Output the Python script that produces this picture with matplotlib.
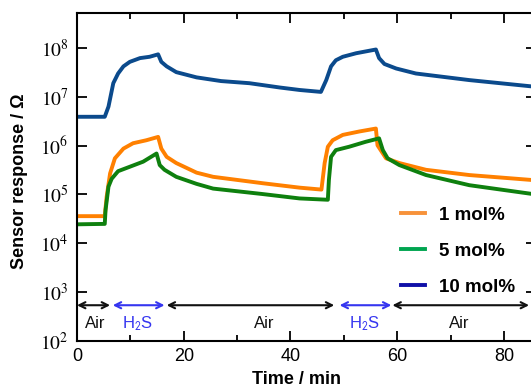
import numpy as np
import matplotlib
matplotlib.use("Agg")
import matplotlib.pyplot as plt
from matplotlib.lines import Line2D
from matplotlib.ticker import FixedLocator, MultipleLocator, FuncFormatter

plt.rcParams['font.family'] = ['Liberation Sans', 'DejaVu Sans']
plt.rcParams['mathtext.fontset'] = 'stix'

# sensor response (time in min, resistance in ohm)
t_10 = [0, 5.2, 5.9, 6.8, 7.7, 8.7, 9.9, 11.8, 13.6, 15.2, 15.8, 16.8, 18.6, 22.4, 27, 32.3,
        38, 41.7, 45.7, 46.7, 47.6, 48.5, 49.8, 52.3, 56.0, 56.6, 57.6, 59.8, 63.5, 73.5, 86]
r_10 = [3.9e6, 3.9e6, 6.3e6, 1.9e7, 3.0e7, 4.2e7, 5.2e7, 6.2e7, 6.6e7, 7.4e7, 5.2e7, 4.2e7,
        3.2e7, 2.5e7, 2.1e7, 1.9e7, 1.55e7, 1.38e7, 1.26e7, 2.2e7, 4.2e7, 5.6e7, 6.6e7, 7.8e7,
        9.3e7, 6.2e7, 4.7e7, 3.8e7, 3.0e7, 2.2e7, 1.6e7]

t_1 = [0, 5.2, 5.55, 6.2, 7.1, 8.7, 10.5, 13.0, 15.2, 15.8, 16.8, 18.6, 22.4, 25.5, 34.8, 41.7,
       45.8, 46.4, 47.0, 47.9, 49.8, 52.9, 56.0, 56.3, 57.9, 60.4, 65.4, 73.5, 86]
r_1 = [3.6e4, 3.6e4, 8.9e4, 2.7e5, 5.5e5, 8.7e5, 1.12e6, 1.29e6, 1.51e6, 8.7e5, 5.9e5, 4.4e5,
       2.8e5, 2.3e5, 1.7e5, 1.38e5, 1.26e5, 4.4e5, 9.5e5, 1.29e6, 1.66e6, 1.95e6, 2.24e6,
       1.02e6, 5.5e5, 4.4e5, 3.2e5, 2.5e5, 1.95e5]

t_5 = [0, 5.2, 5.35, 5.9, 6.5, 7.7, 9.9, 12.4, 14.9, 15.5, 16.4, 18.6, 22.4, 25.5, 34.8, 41.7,
       47.0, 47.2, 47.6, 48.5, 51.0, 54.1, 56.6, 57.3, 58.2, 60.4, 65.4, 73.5, 86]
r_5 = [2.45e4, 2.5e4, 4.8e4, 1.45e5, 2.1e5, 3.0e5, 3.7e5, 4.7e5, 6.9e5, 4.0e5, 3.2e5, 2.3e5,
       1.65e5, 1.32e5, 1.02e5, 8.3e4, 7.8e4, 2.0e5, 5.9e5, 8.1e5, 9.5e5, 1.2e6, 1.41e6, 8.1e5,
       5.5e5, 4.0e5, 2.5e5, 1.55e5, 1.0e5]

# gas exposure periods (start, end, label)
periods = [(0, 6.2, 'Air'), (6.7, 16.4, 'H$_{\\mathsf{2}}$S'), (16.8, 48.2, 'Air'),
           (49.2, 58.9, 'H$_{\\mathsf{2}}$S'), (59.1, 84.7, 'Air')]
label_x = [3.4, 11.4, 35, 53.8, 71.6]

fig = plt.figure(figsize=(5.31, 3.91), dpi=100)
ax = fig.add_axes([77/531, 50/391, (536-77)/531, 328/391])

ax.plot(t_1, r_1, color='#ff8000', lw=2.8)
ax.plot(t_5, r_5, color='#0e800e', lw=2.8)
ax.plot(t_10, r_10, color='#0b4a8c', lw=2.8)

ax.set_yscale('log')
ax.set_xlim(0, 86)
ax.set_ylim(1e2, 5.2e8)

for (a, b, lab), lx in zip(periods, label_x):
    c = '#3535f0' if 'H' in lab else '#111111'
    ax.annotate('', xy=(a, 540), xytext=(b, 540),
                arrowprops=dict(arrowstyle='<->', color=c, lw=1.5, shrinkA=0, shrinkB=0,
                                mutation_scale=11))
    ax.text(lx, 230, lab, color=c, fontsize=12, ha='center', va='center')

ax.yaxis.set_major_locator(FixedLocator([10.0**k for k in range(2, 9)]))
ax.yaxis.set_minor_locator(FixedLocator([]))
ax.yaxis.set_major_formatter(FuncFormatter(lambda v, p: '$10^{%d}$' % round(np.log10(v))))
ax.xaxis.set_major_locator(MultipleLocator(20))
ax.xaxis.set_minor_locator(MultipleLocator(10))

ax.tick_params(axis='both', which='both', direction='in', top=True, right=True, width=1.3)
ax.tick_params(axis='both', which='major', length=7)
ax.tick_params(axis='both', which='minor', length=4.5)
ax.tick_params(axis='x', labelsize=13, pad=5)
ax.tick_params(axis='y', labelsize=14, pad=6)
for s in ax.spines.values():
    s.set_linewidth(1.5)

ax.set_xlabel('Time / min', fontsize=13, fontweight='bold')
ax.xaxis.set_label_coords(0.479, -0.092)
ax.set_ylabel('Sensor response / Ω', fontsize=13, fontweight='bold')
ax.yaxis.set_label_coords(-0.107, 0.488)

handles = [Line2D([], [], color='#f7923a', lw=2.8),
           Line2D([], [], color='#00a550', lw=2.8),
           Line2D([], [], color='#1010a8', lw=2.8)]
ax.legend(handles, ['1 mol%', '5 mol%', '10 mol%'], loc='upper left',
          bbox_to_anchor=(384/531, 1 - 190/391), bbox_transform=fig.transFigure,
          frameon=False, handlelength=1.3, handletextpad=0.75, labelspacing=1.0,
          prop={'size': 13.5, 'weight': 'bold'})

fig.savefig('out.png', dpi=100)
